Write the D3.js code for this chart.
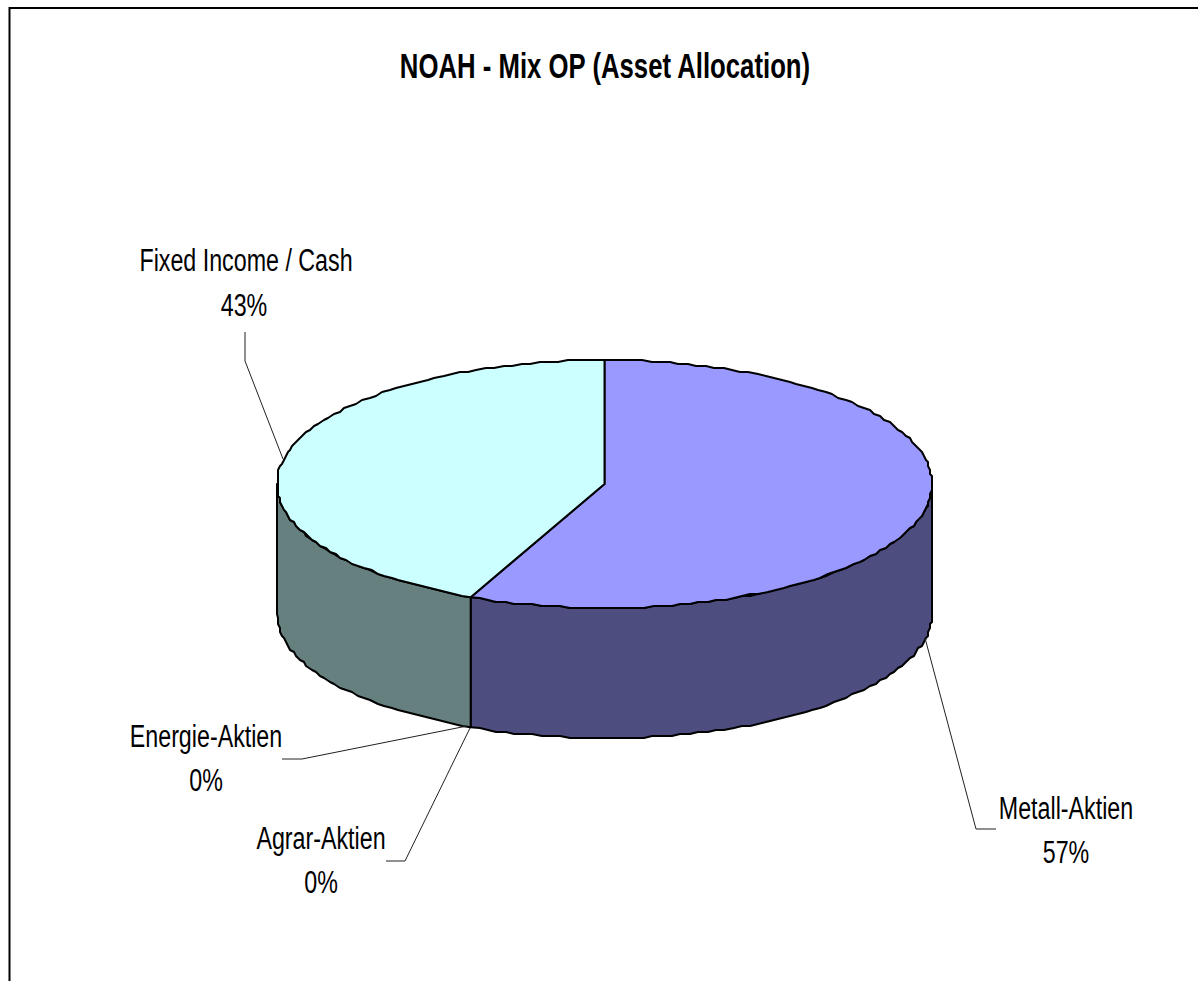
<!DOCTYPE html>
<html><head><meta charset="utf-8">
<script src="https://cdn.jsdelivr.net/npm/d3@7"></script>
<style>html,body{margin:0;padding:0;background:#fff;overflow:hidden}svg{display:block}</style>
</head><body><div id="c"></div>
<script>
const chartTitle = "NOAH - Mix OP (Asset Allocation)";
const categories = ["Metall-Aktien","Agrar-Aktien","Energie-Aktien","Fixed Income / Cash"];
const shares = [56.7,0,0,43.3];
const shareLabels = ["57%","0%","0%","43%"];
const topColors = ["#9999ff","#993366","#ffffcc","#ccffff"];
const sideColors = ["#4d4d80","#4d1a33","#808066","#668080"];
const labelAnchors = [[1066,819,1066,863],[321,849,321,893],[206,747,206,791],[246,271,244,316]];
const leaderPaths = [
  [[925,638],[976,829],[996,829]],
  [[470,728],[405,861],[386,861]],
  [[467,726],[302,759],[282,759]],
  [[283,459],[245,361],[245,332]]
];

const W=1198,H=981,cx=604.5,cy=484,rx=327.5,ry=124,depth=130;
const svg=d3.select("#c").append("svg").attr("width",W).attr("height",H);
svg.append("path").attr("d",`M9.5,${H}V8H${W}`).attr("fill","none").attr("stroke","#000").attr("stroke-width",2);

const font="'Liberation Sans',Arial,sans-serif";
svg.append("text").attr("transform","translate(605,78) scale(0.715,1)")
  .attr("text-anchor","middle").attr("font-family",font).attr("font-size",36).attr("font-weight","bold").text(chartTitle);

const pie=d3.pie().value(d=>d).sort(null);
const arcs=pie(shares);
const xS=d3.scaleLinear().domain([-1,1]).range([cx-rx,cx+rx]);
const yS=d3.scaleLinear().domain([-1,1]).range([cy-ry,cy+ry]);
// the source drawing's outline is slightly stepped: rim points snap to a device grid
const snap=(v,g)=>Math.round(v/g)*g;
const px=a=>xS(Math.sin(a)), py=a=>yS(-Math.cos(a));
const rim=(a0,a1)=>{
  const n=Math.max(1,Math.round((a1-a0)/(2*Math.PI)*220));
  return d3.range(0,n+1).map(k=>a0+(a1-a0)*k/n).map((a,k)=>
    (k===0||k===n)?[px(a),py(a)]:[snap(px(a),2),snap(py(a),2)]);
};

const line=d3.line();
// side walls: only the front half of the rim (PI/2 .. 3PI/2)
arcs.forEach((d,i)=>{
  const a0=Math.max(d.startAngle,Math.PI/2), a1=Math.min(d.endAngle,1.5*Math.PI);
  if(a1-a0<=1e-6) return;
  const up=rim(a0,a1);
  const pts=up.concat(up.slice().reverse().map(p=>[p[0],p[1]+depth]));
  svg.append("path").attr("d",line(pts)+"Z").attr("fill",sideColors[i]).attr("stroke","#000").attr("stroke-width",2).attr("stroke-linejoin","round");
});

// top face
arcs.forEach((d,i)=>{
  if(d.endAngle-d.startAngle<=1e-6) return;
  const pts=[[cx,cy]].concat(rim(d.startAngle,d.endAngle));
  svg.append("path").attr("d",line(pts)+"Z")
    .attr("fill",topColors[i]).attr("stroke","#000").attr("stroke-width",2).attr("stroke-linejoin","round");
});

leaderPaths.forEach(p=>svg.append("path").attr("d",line(p)).attr("fill","none").attr("stroke","#222").attr("stroke-width",1));

const labelG=svg.append("g").attr("font-family",font).attr("font-size",31).attr("fill","#000");
categories.forEach((c,i)=>{
  const [x1,y1,x2,y2]=labelAnchors[i];
  labelG.append("text").attr("transform",`translate(${x1},${y1}) scale(0.75,1)`).attr("text-anchor","middle").text(c);
  labelG.append("text").attr("transform",`translate(${x2},${y2}) scale(0.75,1)`).attr("text-anchor","middle").text(shareLabels[i]);
});
</script></body></html>
